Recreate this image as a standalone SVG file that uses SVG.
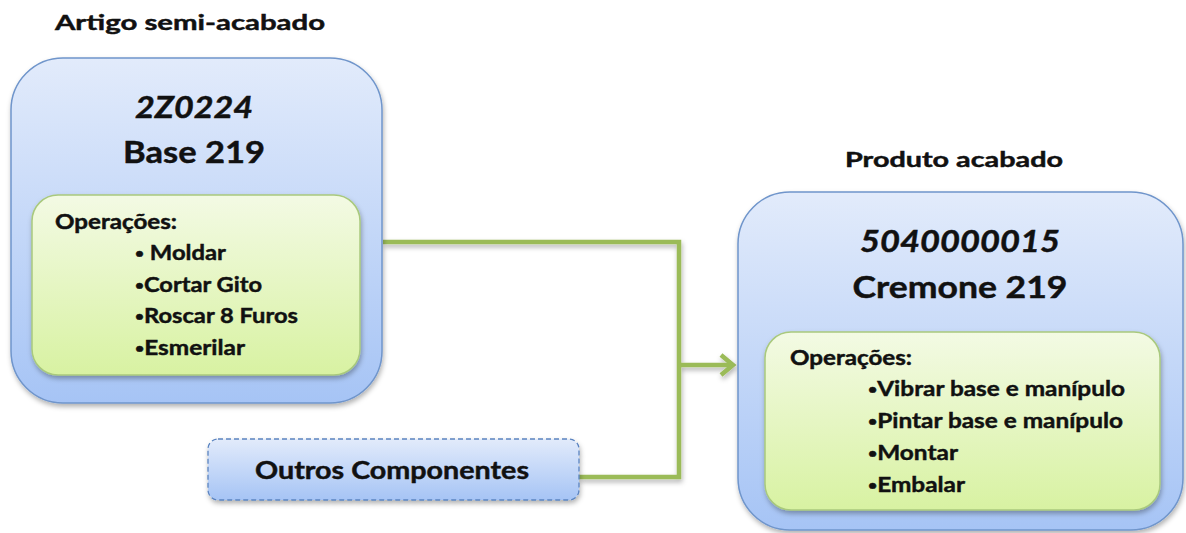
<svg xmlns="http://www.w3.org/2000/svg" width="1186" height="533" viewBox="0 0 1186 533">
  <defs>
    <linearGradient id="gBlue" x1="0" y1="0" x2="0" y2="1">
      <stop offset="0" stop-color="#e2ebfb"/>
      <stop offset="1" stop-color="#a6c4f5"/>
    </linearGradient>
    <linearGradient id="gGreen" x1="0" y1="0" x2="0" y2="1">
      <stop offset="0" stop-color="#f3fae4"/>
      <stop offset="1" stop-color="#d8f2a2"/>
    </linearGradient>
    <filter id="shadow" x="-10%" y="-10%" width="120%" height="125%">
      <feDropShadow dx="1" dy="3" stdDeviation="2.5" flood-color="#000" flood-opacity="0.3"/>
    </filter>
    <marker id="arrow" markerWidth="20" markerHeight="26" refX="15" refY="13" orient="auto" markerUnits="userSpaceOnUse">
      <path d="M3,3 L15,13 L3,23" fill="none" stroke="#9bbb59" stroke-width="4.5" stroke-linejoin="miter"/>
    </marker>
  </defs>
  <style>
    text { font-family: "Lato", "Open Sans", "Liberation Sans", sans-serif; font-weight: bold; fill: #111; stroke: #111; stroke-width: 0.45; }
    .outer { fill: url(#gBlue); stroke: #6f95cb; stroke-width: 1.5; filter: url(#shadow); }
    .inner { fill: url(#gGreen); stroke: #a9c97d; stroke-width: 1.5; filter: url(#shadow); }
    .dash { fill: url(#gBlue); stroke: #5b84c0; stroke-width: 1.3; stroke-dasharray: 5 3; filter: url(#shadow); }
    .hdr { font-size: 21px; }
    .code { font-size: 30px; font-style: italic; text-anchor: middle; }
    .name { font-size: 31px; text-anchor: middle; }
    .ops { font-size: 20px; }
    .item { font-size: 21.5px; }
    .b { font-size: 14px; }
    .conn { fill: none; stroke: #9bbb59; stroke-width: 4.5; }
  </style>

  <!-- connectors -->
  <g id="connectors" filter="url(#shadow)">
    <polyline class="conn" points="383,242 679,242 679,477 579,477"/>
    <line class="conn" x1="679" y1="365" x2="733" y2="365" marker-end="url(#arrow)"/>
  </g>

  <!-- semi-finished article -->
  <g id="node-semi">
    <text class="hdr" x="55" y="30" textLength="270" lengthAdjust="spacingAndGlyphs">Artigo  semi-acabado</text>
    <rect class="outer" x="11" y="58" width="371" height="345" rx="52" ry="52"/>
    <text class="code" x="194" y="118" textLength="118" lengthAdjust="spacingAndGlyphs">2Z0224</text>
    <text class="name" x="194" y="163" textLength="142" lengthAdjust="spacingAndGlyphs">Base 219</text>
    <rect class="inner" x="32" y="195" width="328" height="180" rx="26" ry="26"/>
    <text class="ops" x="55" y="229" textLength="122" lengthAdjust="spacingAndGlyphs">Operações:</text>
    <text class="item" x="135" y="260" textLength="91" lengthAdjust="spacingAndGlyphs"><tspan class="b" dy="-2">•</tspan><tspan dy="2"> Moldar</tspan></text>
    <text class="item" x="135" y="292" textLength="127" lengthAdjust="spacingAndGlyphs"><tspan class="b" dy="-2">•</tspan><tspan dy="2">Cortar Gito</tspan></text>
    <text class="item" x="135" y="323" textLength="163" lengthAdjust="spacingAndGlyphs"><tspan class="b" dy="-2">•</tspan><tspan dy="2">Roscar 8 Furos</tspan></text>
    <text class="item" x="135" y="355" textLength="110" lengthAdjust="spacingAndGlyphs"><tspan class="b" dy="-2">•</tspan><tspan dy="2">Esmerilar</tspan></text>
  </g>

  <!-- other components -->
  <g id="node-outros">
    <rect class="dash" x="208" y="439" width="371" height="61" rx="10" ry="10"/>
    <text x="392" y="479" font-size="24" text-anchor="middle" textLength="274" lengthAdjust="spacingAndGlyphs">Outros Componentes</text>
  </g>

  <!-- finished product -->
  <g id="node-produto">
    <text class="hdr" x="845" y="167" textLength="218" lengthAdjust="spacingAndGlyphs">Produto acabado</text>
    <rect class="outer" x="738" y="192" width="445" height="338" rx="52" ry="52"/>
    <text class="code" x="960" y="252" textLength="200" lengthAdjust="spacingAndGlyphs">5040000015</text>
    <text class="name" x="960" y="298" textLength="215" lengthAdjust="spacingAndGlyphs">Cremone 219</text>
    <rect class="inner" x="765" y="332" width="395" height="178" rx="26" ry="26"/>
    <text class="ops" x="790" y="365" textLength="122" lengthAdjust="spacingAndGlyphs">Operações:</text>
    <text class="item" x="868" y="396" textLength="257" lengthAdjust="spacingAndGlyphs"><tspan class="b" dy="-2">•</tspan><tspan dy="2">Vibrar base e manípulo</tspan></text>
    <text class="item" x="868" y="428" textLength="255" lengthAdjust="spacingAndGlyphs"><tspan class="b" dy="-2">•</tspan><tspan dy="2">Pintar base e manípulo</tspan></text>
    <text class="item" x="868" y="460" textLength="90" lengthAdjust="spacingAndGlyphs"><tspan class="b" dy="-2">•</tspan><tspan dy="2">Montar</tspan></text>
    <text class="item" x="868" y="492" textLength="97" lengthAdjust="spacingAndGlyphs"><tspan class="b" dy="-2">•</tspan><tspan dy="2">Embalar</tspan></text>
  </g>
</svg>
